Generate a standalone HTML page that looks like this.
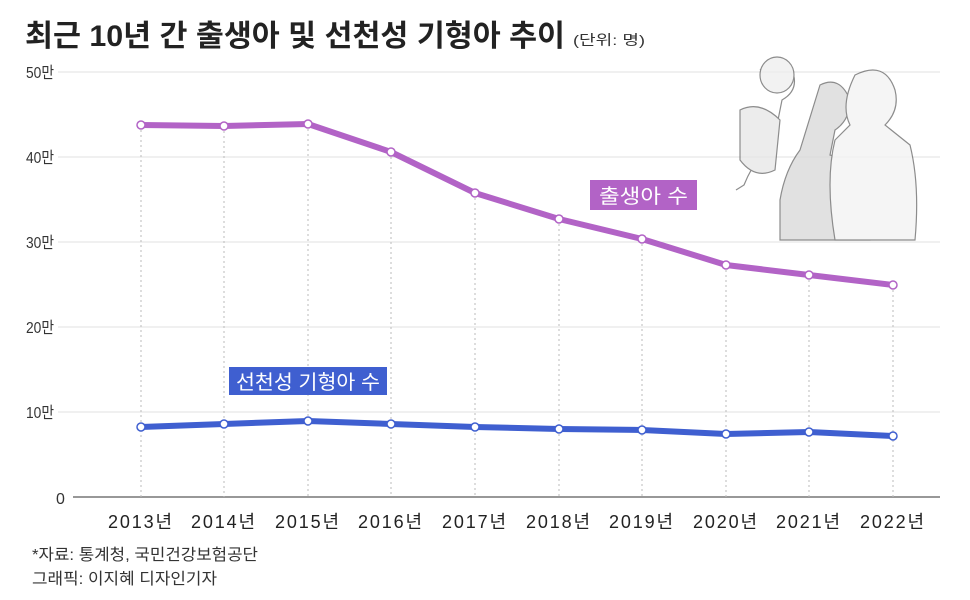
<!DOCTYPE html>
<html><head><meta charset="utf-8"><style>
body{margin:0;background:#fff;width:970px;height:595px;overflow:hidden;font-family:"Liberation Sans","Noto Sans CJK KR",sans-serif}
</style></head><body>
<svg width="970" height="595" xmlns="http://www.w3.org/2000/svg" font-family="Liberation Sans, Noto Sans CJK KR, sans-serif">
<text x="25" y="46" font-size="30" font-weight="bold" fill="#222" textLength="540" lengthAdjust="spacingAndGlyphs">최근 10년 간 출생아 및 선천성 기형아 추이</text>
<text x="573" y="45" font-size="14" fill="#333" textLength="72" lengthAdjust="spacingAndGlyphs">(단위: 명)</text>
<g stroke="#e2e2e2" stroke-width="1">
<line x1="58" y1="72" x2="940" y2="72"/><line x1="58" y1="157" x2="940" y2="157"/><line x1="58" y1="242" x2="940" y2="242"/><line x1="58" y1="327" x2="940" y2="327"/><line x1="58" y1="412" x2="940" y2="412"/>
</g>
<g fill="none" stroke="#666" stroke-width="1.2" opacity="0.75">
<path d="M760 70 q18-15 32 0 q8 20-10 30 l-8 40 q-20 20-30 45 l-8 5"/>
<ellipse cx="777" cy="75" rx="17" ry="18" fill="#eee"/>
<path d="M820 85 q20-10 30 15 q0 20-15 30 l-5 25 q40 10 40 60 l0 25 l-90 0 l0-40 q5-30 20-50 z" fill="#d8d8d8"/>
<path d="M855 75 q30-15 40 15 q5 20-10 35 l25 20 q10 40 5 95 l-80 0 q-10-60 0-100 l15-15 q-10-20 5-50 z" fill="#f2f2f2"/>
<path d="M740 110 q20-10 40 10 l-5 50 q-20 10-35-10 z" fill="#e6e6e6"/>
</g>
<line x1="73" y1="497" x2="940" y2="497" stroke="#777" stroke-width="1.5"/>
<g stroke="#bbb" stroke-dasharray="2,3" stroke-width="1">
<line x1="141" y1="125" x2="141" y2="497"/><line x1="224" y1="126" x2="224" y2="497"/><line x1="308" y1="124" x2="308" y2="497"/><line x1="391" y1="152" x2="391" y2="497"/><line x1="475" y1="193" x2="475" y2="497"/><line x1="559" y1="219" x2="559" y2="497"/><line x1="642" y1="239" x2="642" y2="497"/><line x1="726" y1="265" x2="726" y2="497"/><line x1="809" y1="275" x2="809" y2="497"/><line x1="893" y1="285" x2="893" y2="497"/>
</g>
<g font-size="16" fill="#333">
<text x="26" y="78" textLength="28" lengthAdjust="spacingAndGlyphs">50만</text><text x="26" y="163" textLength="28" lengthAdjust="spacingAndGlyphs">40만</text><text x="26" y="248" textLength="28" lengthAdjust="spacingAndGlyphs">30만</text><text x="26" y="333" textLength="28" lengthAdjust="spacingAndGlyphs">20만</text><text x="26" y="418" textLength="28" lengthAdjust="spacingAndGlyphs">10만</text><text x="56" y="504">0</text>
</g>
<g font-size="18" fill="#222" lengthAdjust="spacingAndGlyphs">
<text x="108" y="528" textLength="64">2013년</text><text x="191" y="528" textLength="64">2014년</text><text x="275" y="528" textLength="64">2015년</text><text x="358" y="528" textLength="64">2016년</text><text x="442" y="528" textLength="64">2017년</text><text x="526" y="528" textLength="64">2018년</text><text x="609" y="528" textLength="64">2019년</text><text x="693" y="528" textLength="64">2020년</text><text x="776" y="528" textLength="64">2021년</text><text x="860" y="528" textLength="64">2022년</text>
</g>
<polyline points="141,125 224,126 308,124 391,152 475,193 559,219 642,239 726,265 809,275 893,285" fill="none" stroke="#b263c6" stroke-width="6" stroke-linejoin="round"/>
<polyline points="141,427 224,424 308,421 391,424 475,427 559,429 642,430 726,434 809,432 893,436" fill="none" stroke="#3f5fd0" stroke-width="6" stroke-linejoin="round"/>
<g fill="#fff" stroke="#b263c6" stroke-width="1.5">
<circle cx="141" cy="125" r="4"/><circle cx="224" cy="126" r="4"/><circle cx="308" cy="124" r="4"/><circle cx="391" cy="152" r="4"/><circle cx="475" cy="193" r="4"/><circle cx="559" cy="219" r="4"/><circle cx="642" cy="239" r="4"/><circle cx="726" cy="265" r="4"/><circle cx="809" cy="275" r="4"/><circle cx="893" cy="285" r="4"/>
</g>
<g fill="#fff" stroke="#3f5fd0" stroke-width="1.5">
<circle cx="141" cy="427" r="4"/><circle cx="224" cy="424" r="4"/><circle cx="308" cy="421" r="4"/><circle cx="391" cy="424" r="4"/><circle cx="475" cy="427" r="4"/><circle cx="559" cy="429" r="4"/><circle cx="642" cy="430" r="4"/><circle cx="726" cy="434" r="4"/><circle cx="809" cy="432" r="4"/><circle cx="893" cy="436" r="4"/>
</g>
<rect x="590" y="180" width="107" height="30" fill="#b263c6"/>
<text x="599" y="203" font-size="20" fill="#fff" textLength="89" lengthAdjust="spacingAndGlyphs">출생아 수</text>
<rect x="229" y="367" width="158" height="28" fill="#3f5fd0"/>
<text x="236" y="389" font-size="20" fill="#fff" textLength="144" lengthAdjust="spacingAndGlyphs">선천성 기형아 수</text>
<text x="32" y="560" font-size="16" fill="#333" textLength="226" lengthAdjust="spacingAndGlyphs">*자료: 통계청, 국민건강보험공단</text>
<text x="32" y="584" font-size="16" fill="#333" textLength="185" lengthAdjust="spacingAndGlyphs">그래픽: 이지혜 디자인기자</text>
</svg>
</body></html>
